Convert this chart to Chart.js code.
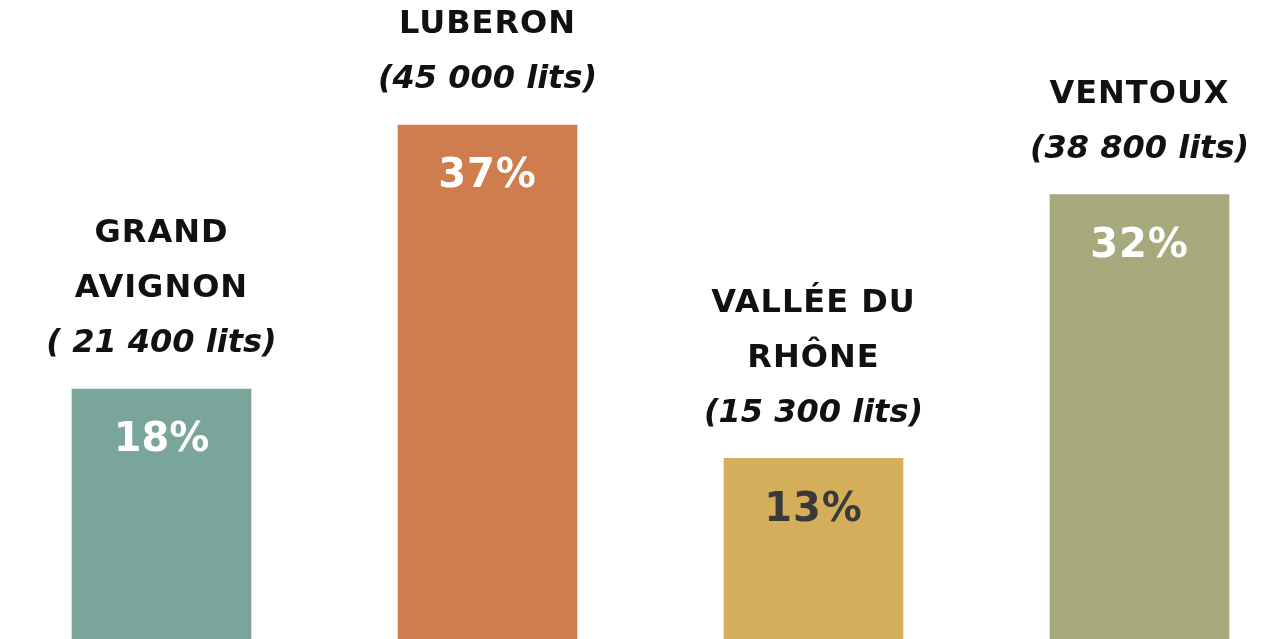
<!DOCTYPE html>
<html>
<head>
<meta charset="utf-8">
<script src="https://cdn.jsdelivr.net/npm/chart.js@4"></script>
<style>
  html, body { margin: 0; padding: 0; background: #fff; overflow: hidden; }
</style>
</head>
<body>
<canvas id="chart" width="1261" height="639"></canvas>
<script>
const names = [["GRAND", "AVIGNON"], ["LUBERON"], ["VALLÉE DU", "RHÔNE"], ["VENTOUX"]];
const beds = ["( 21 400 lits)", "(45 000 lits)", "(15 300 lits)", "(38 800 lits)"];
const shares = [18, 37, 13, 32];
const colors = ["#79a59a", "#cf7c4f", "#d5ae5b", "#a5a97c"];
const pctColors = ["#ffffff", "#ffffff", "#3a3a3a", "#ffffff"];

const labelsPlugin = {
    id: "barLabels",
    afterDatasetsDraw(chart) {
        const ctx = chart.ctx;
        const meta = chart.getDatasetMeta(0);
        ctx.save();
        ctx.textAlign = "center";
        ctx.textBaseline = "middle";
        meta.data.forEach((bar, i) => {
            ctx.font = "bold 40px 'DejaVu Sans'";
            ctx.fillStyle = pctColors[i];
            ctx.fillText(shares[i] + "%", bar.x, bar.y + 52);

            const lines = names[i].concat([beds[i]]);
            let y = bar.y - 45;
            for (let j = lines.length - 1; j >= 0; j--) {
                const isBeds = j === lines.length - 1;
                ctx.font = isBeds
                    ? "italic bold 32px 'DejaVu Sans'"
                    : "bold 32px 'DejaVu Sans'";
                ctx.letterSpacing = isBeds ? "0px" : "1px";
                ctx.fillStyle = "#111111";
                ctx.fillText(lines[j], bar.x, y);
                y -= 55;
            }
        });
        ctx.restore();
    },
};

new Chart(document.getElementById("chart"), {
    type: "bar",
    data: {
        datasets: [
            {
                data: shares.map((v, i) => ({ x: i, y: v })),
                backgroundColor: colors,
                borderWidth: 0,
                barThickness: 179,
            },
        ],
    },
    options: {
        responsive: false,
        animation: false,
        layout: { padding: 0 },
        plugins: {
            legend: { display: false },
            tooltip: { enabled: false },
        },
        scales: {
            x: {
                type: "linear",
                offset: false,
                min: -0.4954,
                max: 3.3727,
                display: false,
            },
            y: {
                min: 0,
                max: 46,
                display: false,
            },
        },
    },
    plugins: [labelsPlugin],
});
</script>
</body>
</html>
